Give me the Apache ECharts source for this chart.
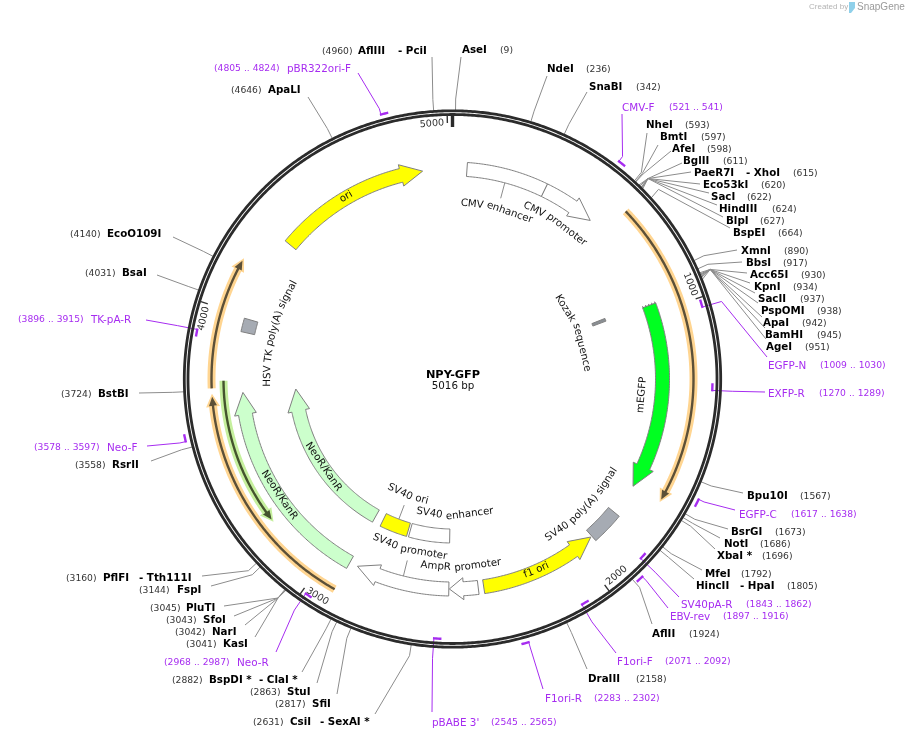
<!DOCTYPE html>
<html lang="en">
<head>
    <meta charset="UTF-8">
    <title>NPY-GFP</title>
    <script src="https://cdn.jsdelivr.net/npm/echarts@6/dist/echarts.min.js"></script>
    <style>
        html, body { margin: 0; padding: 0; background: #fff; }
        #chart { width: 906px; height: 739px; }
    </style>
</head>
<body>
    <div id="chart"></div>

    <script>
        // Plasmid
        const plasmidName = 'NPY-GFP';
        const plasmidLength = 5016;
        const tickValues = [1000, 2000, 3000, 4000, 5000];

        // Features (start -> end is the direction of the arrow)
        const featureNames = ['CMV enhancer', 'CMV promoter', 'Kozak sequence', 'mEGFP', 'SV40 poly(A) signal', 'f1 ori', 'AmpR promoter', 'SV40 promoter', 'SV40 enhancer', 'SV40 ori', 'NeoR/KanR', 'NeoR/KanR', 'HSV TK poly(A) signal', 'ori'];
        const featureStarts = [55, 362, 952, 968, 1804, 2389, 2410, 2522, 2522, 2735, 2915, 2915, 3938, 4313];
        const featureEnds = [362, 571, 966, 1682, 1929, 1934, 2520, 2883, 2725, 2873, 3711, 3711, 3989, 4902];

        // Thin highlighted arcs
        const thinStarts = [640, 3731, 2916, 3756];
        const thinEnds = [1672, 4171, 3703, 3235];

        // Primers
        const primerNames = ['pBR322ori-F', 'CMV-F', 'EGFP-N', 'EXFP-R', 'EGFP-C', 'SV40pA-R', 'EBV-rev', 'F1ori-F', 'F1ori-R', "pBABE 3'", 'Neo-R', 'Neo-F', 'TK-pA-R'];
        const primerStarts = [4805, 521, 1009, 1270, 1617, 1843, 1897, 2071, 2283, 2545, 2968, 3578, 3896];
        const primerEnds = [4824, 541, 1030, 1289, 1638, 1862, 1916, 2092, 2302, 2565, 2987, 3597, 3915];

        // Restriction sites
        const siteNames = ['AseI', 'NdeI', 'SnaBI', 'NheI', 'BmtI', 'AfeI', 'BglII', 'PaeR7I', 'Eco53kI', 'SacI', 'HindIII', 'BlpI', 'BspEI', 'XmnI', 'BbsI', 'Acc65I', 'KpnI', 'SacII', 'PspOMI', 'ApaI', 'BamHI', 'AgeI', 'Bpu10I', 'BsrGI', 'NotI', 'XbaI *', 'MfeI', 'HincII', 'AflII', 'DraIII', 'CsiI', 'SfiI', 'StuI', 'BspDI *', 'KasI', 'NarI', 'SfoI', 'PluTI', 'FspI', 'PflFI', 'RsrII', 'BstBI', 'BsaI', 'EcoO109I', 'ApaLI', 'AflIII'];
        const sitePositions = [9, 236, 342, 593, 597, 598, 611, 615, 620, 622, 624, 627, 664, 890, 917, 930, 934, 937, 938, 942, 945, 951, 1567, 1673, 1686, 1696, 1792, 1805, 1924, 2158, 2631, 2817, 2863, 2882, 3041, 3042, 3043, 3045, 3144, 3160, 3558, 3724, 4031, 4140, 4646, 4960];
        const siteSecondNames = { PaeR7I: '- XhoI', HincII: '- HpaI', CsiI: '- SexAI *', 'BspDI *': '- ClaI *', PflFI: '- Tth111I', AflIII: '- PciI' };

        // Layout, all in page pixels or in ring units, not data
        const center = [452.5, 379];
        const outerRadius = 290;
        const ringRadii = [268.2, 264.5];
        const siteElbowRadius = 280;
        const featureColors = ['#ffffff', '#ffffff', '#8a8f94', '#00ff21', '#a6abb3', '#ffff00', '#ffffff', '#ffffff', '#ffffff', '#ffff00', '#ccffcc', '#ccffcc', '#a6abb3', '#ffff00'];
        const featureTracks = [210, 210, 157, 210, 209, 210, 210, 210, 157, 157, 157, 210, 209.8, 210];
        const featureArrow = [0, 1, 0, 1, 0, 1, 1, 1, 0, 0, 1, 1, 0, 1];
        const featureHeadLength = [0, 22, 0, 22, 0, 22, 14, 22, 0, 0, 22, 22, 0, 22];
        // radius and bp of the centre of each feature label
        const featureLabelSpots = [[176, 205], [188, 466], [133, 964], [190, 1321], [185, 1870], [209, 2178], [188, 2472], [176, 2706], [136, 2494], [124.5, 2802], [156, 3285], [208.5, 3291], [185, 3967], [211, 4594]];
        // feature leader lines: bp, from radius, to radius
        const featureLeaders = [[208, 203, 187], [2703, 203, 187], [2800, 150, 135]];
        const thinTracks = [241, 241, 241, 229];
        const thinBands = ['#ffd591', '#ffd591', '#ffd591', '#c6f09e'];
        const thinCores = ['#5c5038', '#5c5038', '#5c5038', '#44542e'];
        // primer mark radius (inside or outside of the ring)
        const primerRadii = [274, 274, 260, 260, 274, 260, 274, 260, 274, 260, 260, 274, 260];
        // name x, range x, text y, leader end x, y
        const primerLayout = [
            [287, 214, 68, 358, 73], [622, 669, 107, 622, 114], [768, 820, 365, 767, 357], [768, 819, 393, 765, 392],
            [739, 791, 514, 735, 510], [681, 746, 604, 679, 597], [670, 723, 616, 668, 608], [617, 665, 661, 616, 653],
            [545, 594, 698, 543, 689], [432, 491, 722, 432, 712], [237, 164, 662, 276, 652], [107, 34, 447, 147, 446], [91, 18, 319, 146, 320]
        ];
        // name x, position x, second name x, text y, leader end x, y, elbow bp
        const siteLayout = [
            [462, 500, 0, 50, 461, 57], [547, 586, 0, 69, 547, 76], [589, 636, 0, 87, 587, 92],
            [646, 685, 0, 125, 647, 133, 591], [660, 701, 0, 137, 658, 145, 595], [672, 707, 0, 149, 671, 151, 598], [683, 723, 0, 161, 682, 163, 617],
            [694, 793, 746, 173, 691, 172, 617], [703, 761, 0, 185, 700, 184, 617], [711, 747, 0, 197, 709, 193, 617], [719, 772, 0, 209, 717, 205, 617], [726, 760, 0, 221, 723, 217, 617], [733, 778, 0, 233, 730, 228, 660],
            [741, 784, 0, 251, 737, 250], [746, 783, 0, 263, 742, 262], [750, 801, 0, 275, 747, 273, 933], [754, 793, 0, 287, 750, 283, 933], [758, 800, 0, 299, 755, 293, 933], [761, 817, 0, 311, 758, 303, 933], [763, 802, 0, 323, 762, 317, 933], [765, 817, 0, 335, 765, 328, 933], [766, 805, 0, 347, 766, 339, 933],
            [747, 800, 0, 496, 743, 493], [731, 775, 0, 532, 728, 529], [724, 760, 0, 544, 720, 538], [717, 762, 0, 556, 715, 549],
            [705, 741, 0, 574, 702, 570], [696, 787, 740, 586, 694, 579], [652, 689, 0, 634, 652, 624], [588, 636, 0, 679, 587, 669],
            [290, 253, 320, 722, 375, 714], [312, 275, 0, 704, 337, 694], [287, 250, 0, 692, 317, 683], [209, 172, 259, 680, 302, 672],
            [223, 186, 0, 644, 255, 637, 3045], [212, 175, 0, 632, 245, 625, 3045], [203, 166, 0, 620, 234, 616, 3045], [186, 150, 0, 608, 224, 606, 3045],
            [177, 139, 0, 590, 211, 586], [103, 66, 139, 578, 202, 576],
            [112, 75, 0, 465, 151, 461], [98, 61, 0, 394, 139, 393], [122, 85, 0, 273, 157, 275], [107, 70, 0, 234, 173, 237], [268, 231, 0, 90, 308, 97], [358, 322, 398, 51, 432, 57]
        ];

        const bold = 'bold 10.3px "DejaVu Sans"';
        const plain = '9.2px "DejaVu Sans"';
        const primerFont = '10.4px "DejaVu Sans"';
        const labelFont = '10.2px "DejaVu Sans"';
        const tickFont = '9.6px "DejaVu Sans"';
        const purple = '#a62cf0';
        const textNudge = 0.8;
        const measure = document.createElement('canvas').getContext('2d');

        function bpPerPixel(r) {
            return plasmidLength / (2 * Math.PI * r);
        }

        function arcPoints(api, r, from, to) {
            const n = Math.max(2, Math.ceil(Math.abs(to - from) / 6));
            const pts = [];
            for (let i = 0; i <= n; i++) pts.push(api.coord([r, from + (to - from) * i / n]));
            return pts;
        }

        // body plus optional arrow head, as one closed outline
        function arrowOutline(api, r, half, from, to, headHalf, headLength) {
            const dir = to > from ? 1 : -1;
            if (!headLength) {
                return arcPoints(api, r + half, from, to).concat(arcPoints(api, r - half, to, from));
            }
            const base = to - dir * headLength * bpPerPixel(r);
            return arcPoints(api, r + half, from, base).concat(
                [api.coord([r + headHalf, base]), api.coord([r, to]), api.coord([r - headHalf, base])],
                arcPoints(api, r - half, base, from)
            );
        }

        function textEl(text, x, y, font, fill, align, rotation) {
            return {
                type: 'text', x: x, y: y, rotation: rotation || 0,
                style: { text: text, font: font, fill: fill, textAlign: align || 'left', textVerticalAlign: 'middle' }
            };
        }

        function lineEl(points, stroke, width) {
            return { type: 'polyline', shape: { points: points }, style: { stroke: stroke, fill: null, lineWidth: width } };
        }

        function angleOf(bp) {
            return bp / plasmidLength * 2 * Math.PI;
        }

        // words follow the circle, reading clockwise on top and anticlockwise below
        function arcLabel(api, text, r, bp, font, fill) {
            measure.font = font;
            const clockwise = bp < plasmidLength / 4 || bp > plasmidLength * 3 / 4;
            const total = measure.measureText(text).width;
            const space = measure.measureText(' ').width;
            const els = [];
            let used = 0;
            text.split(' ').forEach(function (word) {
                const w = measure.measureText(word).width;
                const offset = used + w / 2 - total / 2;
                const b = bp + (clockwise ? 1 : -1) * offset * bpPerPixel(r);
                const p = api.coord([r, b]);
                const rot = clockwise ? angleOf(b) : angleOf(b) - Math.PI;
                els.push(textEl(word, p[0], p[1], font, fill, 'center', -rot));
                used += w + space;
            });
            return els;
        }

        function renderRing(params, api) {
            const children = ringRadii.map(function (r) {
                return lineEl(arcPoints(api, r, 0, plasmidLength), '#2b2b2b', 2.8);
            });
            children.push(lineEl([api.coord([252, 0]), api.coord([264, 0])], '#2b2b2b', 3.4));
            tickValues.forEach(function (t) {
                children.push(lineEl([api.coord([256, t]), api.coord([264, t])], '#333', 1.4));
                const b = t - 48;
                const p = api.coord([256, b]);
                const flip = b > plasmidLength / 4 && b < plasmidLength * 3 / 4;
                const rot = flip ? angleOf(b) - Math.PI : angleOf(b);
                children.push(textEl(String(t), p[0], p[1], tickFont, '#333', 'center', -rot));
            });
            return { type: 'group', children: children };
        }

        function renderSite(params, api) {
            const i = params.dataIndex;
            const l = siteLayout[i];
            const bp = sitePositions[i];
            const name = siteNames[i];
            const y = l[3] + textNudge;
            const children = [lineEl([
                api.coord([269, bp]),
                api.coord([siteElbowRadius, l[6] || bp]),
                [l[4], l[5]]
            ], '#8c8c8c', 1)];
            children.push(textEl(name, l[0], y, bold, '#000'));
            if (siteSecondNames[name]) children.push(textEl(siteSecondNames[name], l[2], y, bold, '#000'));
            children.push(textEl('(' + bp + ')', l[1], y, plain, '#333'));
            return { type: 'group', children: children };
        }

        function renderPrimer(params, api) {
            const i = params.dataIndex;
            const l = primerLayout[i];
            const r = primerRadii[i];
            const y = l[2] + textNudge;
            // leader leaves from the 5' end of the primer
            const fivePrime = r > ringRadii[0] ? primerStarts[i] : primerEnds[i];
            return {
                type: 'group',
                children: [
                    lineEl([api.coord([r, fivePrime]), api.coord([siteElbowRadius, fivePrime]), [l[3], l[4]]], purple, 1),
                    lineEl(arcPoints(api, r, primerStarts[i] - 3, primerEnds[i] + 3), purple, 2.4),
                    textEl(primerNames[i], l[0], y, primerFont, purple),
                    textEl('(' + primerStarts[i] + ' .. ' + primerEnds[i] + ')', l[1], y, plain, purple)
                ]
            };
        }

        function renderThin(params, api) {
            const i = params.dataIndex;
            const r = thinTracks[i];
            const from = thinStarts[i];
            const to = thinEnds[i];
            const dir = to > from ? 1 : -1;
            return {
                type: 'group',
                children: [
                    { type: 'polygon', shape: { points: arrowOutline(api, r, 4, from, to + dir * 3 * bpPerPixel(r), 7, 13) }, style: { fill: thinBands[i] } },
                    { type: 'polygon', shape: { points: arrowOutline(api, r, 1.2, from, to, 4, 9) }, style: { fill: thinCores[i] } }
                ]
            };
        }

        function renderFeature(params, api) {
            const i = params.dataIndex;
            const r = featureTracks[i];
            const arrow = featureArrow[i];
            const children = [{
                type: 'polygon',
                shape: { points: arrowOutline(api, r, 7, featureStarts[i], featureEnds[i], 11, arrow ? featureHeadLength[i] : 0) },
                style: { fill: featureColors[i], stroke: '#7f7f7f', lineWidth: 1 }
            }];
            if (featureNames[i] === 'mEGFP') {
                // start of the gene is cut off, drawn as a small hatch
                for (let k = 0; k < 5; k++) {
                    const h = r - 6.5 + k * 3.2;
                    children.push(lineEl([api.coord([h, featureStarts[i]]), api.coord([h, featureStarts[i] - 6])], '#333', 0.7));
                }
            }
            const spot = featureLabelSpots[i];
            return { type: 'group', children: children.concat(arcLabel(api, featureNames[i], spot[0], spot[1], labelFont, '#111')) };
        }

        function renderLeader(params, api) {
            const l = featureLeaders[params.dataIndex];
            return lineEl([api.coord([l[1], l[0]]), api.coord([l[2], l[0]])], '#8c8c8c', 1);
        }

        function customSeries(data, renderItem) {
            return {
                type: 'custom', coordinateSystem: 'polar', silent: true, animation: false,
                data: data, renderItem: renderItem
            };
        }

        const chart = echarts.init(document.getElementById('chart'));
        chart.setOption({
            animation: false,
            polar: { center: center, radius: outerRadius },
            angleAxis: { type: 'value', min: 0, max: plasmidLength, startAngle: 90, clockwise: true, show: false },
            radiusAxis: { type: 'value', min: 0, max: outerRadius, show: false },
            series: [
                customSeries(sitePositions.map(function (bp) { return [269, bp]; }), renderSite),
                customSeries(primerStarts.map(function (bp, i) { return [primerRadii[i], bp]; }), renderPrimer),
                customSeries([[0, 0]], renderRing),
                customSeries(thinStarts.map(function (bp, i) { return [thinTracks[i], bp]; }), renderThin),
                customSeries(featureLeaders.map(function (l) { return [l[1], l[0]]; }), renderLeader),
                customSeries(featureStarts.map(function (bp, i) { return [featureTracks[i], bp]; }), renderFeature)
            ],
            graphic: [
                { type: 'text', x: 453, y: 375.5, style: { text: plasmidName, font: 'bold 11.3px "DejaVu Sans"', fill: '#000', textAlign: 'center', textVerticalAlign: 'middle' } },
                { type: 'text', x: 453, y: 386.5, style: { text: plasmidLength + ' bp', font: '10.3px "DejaVu Sans"', fill: '#111', textAlign: 'center', textVerticalAlign: 'middle' } },
                { type: 'text', x: 809, y: 7, style: { text: 'Created by', font: '8px "Liberation Sans"', fill: '#b4b4b4', textVerticalAlign: 'middle' } },
                { type: 'polygon', shape: { points: [[849, 2], [855, 2], [855, 8], [851, 13], [849, 13]] }, style: { fill: '#8fd0ea' } },
                { type: 'text', x: 857, y: 7, style: { text: 'SnapGene', font: '10px "Liberation Sans"', fill: '#9a9a9a', textVerticalAlign: 'middle' } }
            ]
        });
    </script>
</body>
</html>
